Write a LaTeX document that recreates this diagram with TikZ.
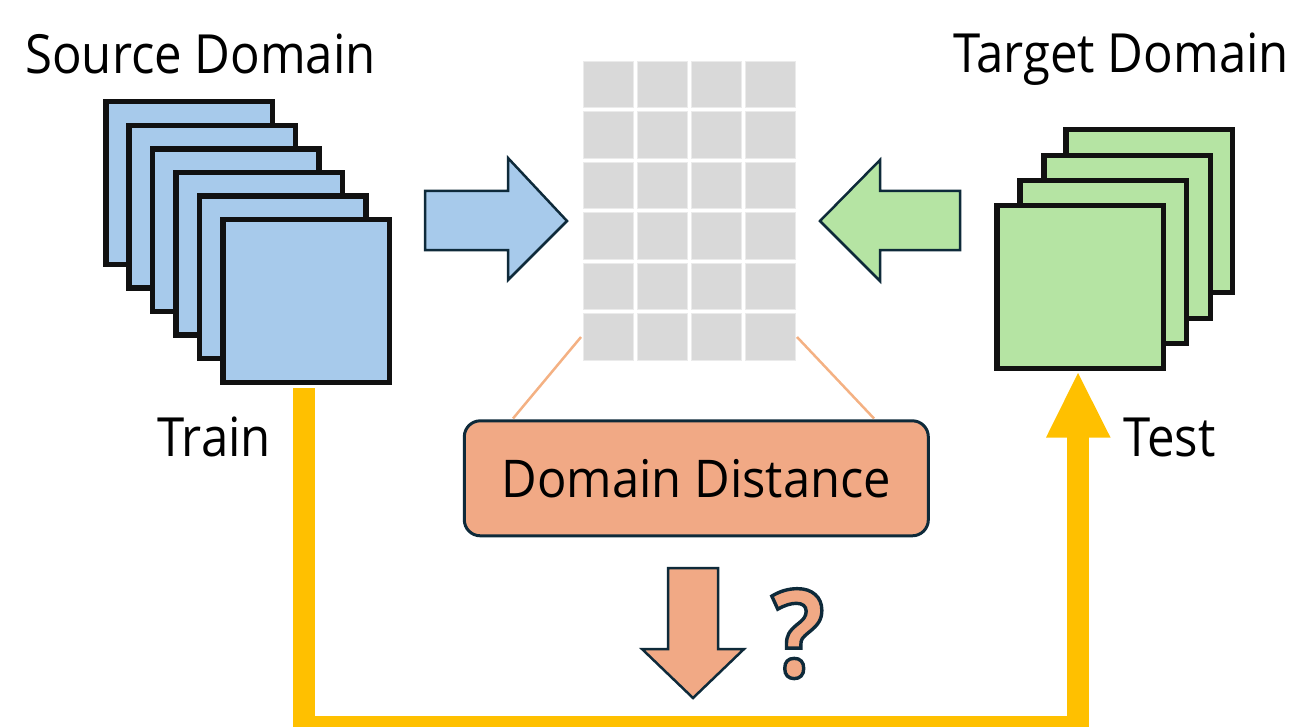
\documentclass[tikz,border=0pt]{standalone}
\usepackage{fontspec}
\setmainfont[FakeStretch=0.91]{Open Sans}
\newfontfamily\boxfont[FakeStretch=0.94]{Open Sans}
\definecolor{srcblue}{HTML}{A7CAEB}
\definecolor{tgtgreen}{HTML}{B5E4A3}
\definecolor{distorange}{HTML}{F1A985}
\definecolor{linkorange}{HTML}{F4B183}
\definecolor{navy}{HTML}{0E2A3A}
\definecolor{flowyellow}{HTML}{FFC000}
\definecolor{cellgray}{HTML}{D9D9D9}
\definecolor{sqline}{HTML}{111111}
% outlined glyph: fill in the current colour, stroke in navy
\newcommand{\outlinedglyph}[1]{%
  \special{pdf:literal direct 2 Tr 3.4 w 0.055 0.165 0.227 RG}#1%
  \special{pdf:literal direct 0 Tr}}
\tikzset{
  label text/.style={font=\fontsize{54}{60}\selectfont, inner sep=0, anchor=base west},
  sheet/.style={draw=sqline, line width=5.5, minimum width=166.5, minimum height=162.5, inner sep=0},
  srcsheet/.style={sheet, fill=srcblue},
  tgtsheet/.style={sheet, fill=tgtgreen},
  fatarrow/.style={draw=navy, line width=2.5, line join=miter},
  cell/.style={fill=cellgray, draw=white!92!black, line width=0.6},
  link/.style={draw=linkorange, line width=2.5},
  flow/.style={draw=flowyellow, line width=22, line join=miter},
}
\begin{document}
\begin{tikzpicture}[x=1pt, y=-1pt]
\useasboundingbox (0,0) rectangle (1289,727);

% titles and captions
\node[label text] (srctitle) at (25,73.3) {Source Domain};
\node[label text] (tgttitle) at (953,73) {Target Domain};
\node[label text] (train) at (157,456.5) {Train};
\node[label text] (test) at (1123,456.5) {Test};

% stack of source samples (back to front)
\foreach \i in {0,...,5} {
  \node[srcsheet] (src\i) at ({103+23.4*\i+86},{99+23.6*\i+84}) {};
}

% stack of target samples (back to front)
\node[tgtsheet] (tgt0) at (1149,211) {};
\node[tgtsheet] (tgt1) at (1127,237) {};
\node[tgtsheet] (tgt2) at (1103,262) {};
\node[tgtsheet] (tgt3) at (1080,287) {};

% feature grid
\node[minimum width=212, minimum height=299, inner sep=0] (grid) at (689,210.5) {};
\foreach \c in {0,...,3} {
  \foreach \r in {0,...,5} {
    \path[cell] ({583+54*\c},{61+50.5*\r}) rectangle ++(50,46.5);
  }
}

% block arrows into the grid
\coordinate (barrow) at (425,191);
\draw[fatarrow, fill=srcblue] (barrow) -- (508,191) -- (508,158) -- (567,221)
  -- (508,280) -- (508,250) -- (425,250) -- cycle;
\coordinate (garrow) at (960,191);
\draw[fatarrow, fill=tgtgreen] (garrow) -- (880,191) -- (880,160) -- (820,221)
  -- (880,281) -- (880,250) -- (960,250) -- cycle;

% distance box
\node[draw=navy, fill=distorange, line width=3, rounded corners=16,
      minimum width=464, minimum height=115, inner sep=0,
      font=\boxfont\fontsize{52}{58}\selectfont] (dist) at (696.3,478.3) {Domain Distance};
\coordinate (gl) at (581,337);
\coordinate (gr) at (797,337);
\draw[link] (gl) -- (513,418.5);
\draw[link] (gr) -- (874,418.5);

% question arrow
\coordinate (darrow) at (668,568);
\draw[fatarrow, fill=distorange] (darrow) -- (718,568) -- (718,649) -- (744,649)
  -- (693,698) -- (642,649) -- (668,649) -- cycle;
\node[inner sep=0, anchor=base, font=\bfseries\fontsize{122}{130}\selectfont] (quest) at (798,677)
  {\textcolor{distorange}{\outlinedglyph{?}}};

% train-to-test path
\coordinate (fs) at (304,388);
\coordinate (fe) at (1078,437);
\draw[flow] (fs) -- (304,727) -- (1078,727) -- (fe);
\fill[flowyellow] (1046,437.5) -- (1110.5,437.5) -- (1078,373) -- cycle;
\end{tikzpicture}
\end{document}
